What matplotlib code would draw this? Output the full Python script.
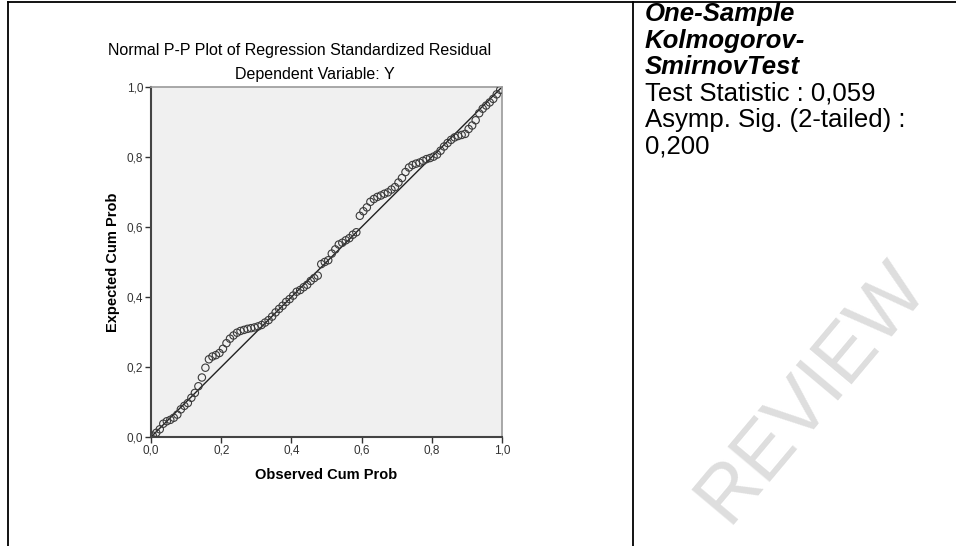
import numpy as np
import matplotlib
matplotlib.use("Agg")
import matplotlib.pyplot as plt
from matplotlib.lines import Line2D
from matplotlib.ticker import FuncFormatter

# observed vs expected cumulative probability
obs = [0.005, 0.015, 0.025, 0.035, 0.045, 0.055, 0.065, 0.075, 0.085, 0.095,
       0.105, 0.115, 0.125, 0.135, 0.145, 0.155, 0.165, 0.175, 0.185, 0.195,
       0.205, 0.215, 0.225, 0.235, 0.245, 0.255, 0.265, 0.275, 0.285, 0.295,
       0.305, 0.315, 0.325, 0.335, 0.345, 0.355, 0.365, 0.375, 0.385, 0.395,
       0.405, 0.415, 0.425, 0.435, 0.445, 0.455, 0.465, 0.475, 0.485, 0.495,
       0.505, 0.515, 0.525, 0.535, 0.545, 0.555, 0.565, 0.575, 0.585, 0.595,
       0.605, 0.615, 0.625, 0.635, 0.645, 0.655, 0.665, 0.675, 0.685, 0.695,
       0.705, 0.715, 0.725, 0.735, 0.745, 0.755, 0.765, 0.775, 0.785, 0.795,
       0.805, 0.815, 0.825, 0.835, 0.845, 0.855, 0.865, 0.875, 0.885, 0.895,
       0.905, 0.915, 0.925, 0.935, 0.945, 0.955, 0.965, 0.975, 0.985, 0.995]
exp = [0.004, 0.012, 0.022, 0.038, 0.045, 0.049, 0.055, 0.064, 0.079, 0.089,
       0.097, 0.112, 0.126, 0.145, 0.170, 0.198, 0.222, 0.230, 0.234, 0.240,
       0.252, 0.268, 0.281, 0.290, 0.298, 0.303, 0.306, 0.309, 0.311, 0.313,
       0.316, 0.320, 0.327, 0.334, 0.344, 0.356, 0.366, 0.375, 0.386, 0.394,
       0.404, 0.415, 0.420, 0.428, 0.435, 0.446, 0.454, 0.461, 0.494, 0.500,
       0.505, 0.524, 0.536, 0.550, 0.555, 0.562, 0.568, 0.578, 0.585, 0.632,
       0.645, 0.656, 0.672, 0.680, 0.686, 0.690, 0.695, 0.699, 0.707, 0.714,
       0.727, 0.740, 0.757, 0.770, 0.777, 0.781, 0.784, 0.789, 0.794, 0.797,
       0.801, 0.807, 0.818, 0.830, 0.840, 0.849, 0.856, 0.860, 0.863, 0.866,
       0.880, 0.890, 0.905, 0.925, 0.938, 0.947, 0.956, 0.966, 0.979, 0.992]
ticks = [0.0, 0.2, 0.4, 0.6, 0.8, 1.0]

ks_lines = ["One-Sample", "Kolmogorov-", "SmirnovTest"]
stat_lines = ["Test Statistic : 0,059", "Asymp. Sig. (2-tailed) :", "0,200"]

plt.rcParams['font.family'] = ['Liberation Sans Narrow', 'Liberation Sans', 'DejaVu Sans']

W, H = 956, 546
fig = plt.figure(figsize=(W/100, H/100), dpi=100)
fig.patch.set_facecolor("white")

# watermark (behind everything)
fig.text(812/W, 1-392/H, "REVIEW", ha="center", va="center", fontsize=57,
         rotation=50, color="#dedede", family=["Liberation Sans", "DejaVu Sans"], zorder=0)

# table borders
fig.add_artist(Line2D([8/W, 1], [1-2/H, 1-2/H], color="black", lw=1.3))
fig.add_artist(Line2D([8/W, 8/W], [0, 1-2/H], color="black", lw=1.3))
fig.add_artist(Line2D([633/W, 633/W], [0, 1-2/H], color="black", lw=1.3))

ax = fig.add_axes([151/W, 1-437/H, 351/W, 350/H])
ax.set_facecolor("#f0f0f0")
ax.plot([0, 1], [0, 1], color="#222222", lw=1.0, zorder=2)
ax.scatter(obs, exp, s=28, facecolors="none", edgecolors="#3a3a3a", linewidths=0.8, zorder=3)
ax.set_xlim(0, 1); ax.set_ylim(0, 1)
ax.set_xticks(ticks); ax.set_yticks(ticks)
fmt = FuncFormatter(lambda v, p: ("%.1f" % v).replace(".", ","))
ax.xaxis.set_major_formatter(fmt); ax.yaxis.set_major_formatter(fmt)
ax.tick_params(direction="out", length=4, width=1, labelsize=8.5, colors="#333333", pad=1.5)
for s in ["left", "bottom"]:
    ax.spines[s].set_color("#444444"); ax.spines[s].set_linewidth(1.5)
for s in ["top", "right"]:
    ax.spines[s].set_color("#9a9a9a"); ax.spines[s].set_linewidth(1.2)
ax.set_xlabel("Observed Cum Prob", fontsize=10.5, fontweight="bold", labelpad=8)
ax.set_ylabel("Expected Cum Prob", fontsize=10.5, fontweight="bold", labelpad=5)

fig.text(300/W, 1-51/H, "Normal P-P Plot of Regression Standardized Residual",
         ha="center", va="center", fontsize=11.5)
fig.text(315/W, 1-75/H, "Dependent Variable: Y", ha="center", va="center", fontsize=11.5)

# right cell text
y = 14
for t in ks_lines:
    fig.text(645/W, 1-y/H, t, ha="left", va="center", fontsize=18.5,
             fontweight="bold", fontstyle="italic", family=["Liberation Sans", "DejaVu Sans"])
    y += 26.6
for t in stat_lines:
    fig.text(645/W, 1-y/H, t, ha="left", va="center", fontsize=18.5,
             family=["Liberation Sans", "DejaVu Sans"])
    y += 26.6

fig.savefig("out.png", dpi=100)
